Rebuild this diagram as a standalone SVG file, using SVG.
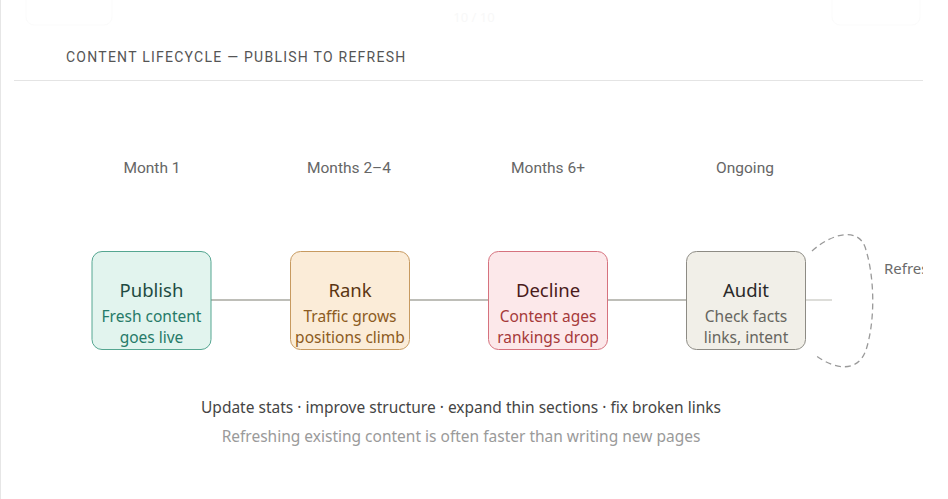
<svg xmlns="http://www.w3.org/2000/svg" width="948" height="499" viewBox="0 0 948 499">
<style>
.t{font-family:"Noto Sans","DejaVu Sans",sans-serif}
.title{font-family:Roboto,"Liberation Sans",sans-serif;font-size:14px;fill:#555;letter-spacing:1.25px}
.month{font-family:Roboto,"Liberation Sans",sans-serif;font-size:15.5px;fill:#666;text-anchor:middle}
.nt{font-size:18.5px;text-anchor:middle}
.ns{font-size:15.5px;text-anchor:middle}
.conn{stroke:#a9a8a0;stroke-width:1.5;fill:none}
.foot{font-size:15.5px;text-anchor:middle}
</style>
<defs>
<clipPath id="clipR"><rect x="0" y="0" width="923" height="499"/></clipPath>
</defs>
<rect width="948" height="499" fill="#fff"/>
<line x1="0.5" y1="0" x2="0.5" y2="499" stroke="#e6e6e6" stroke-width="1"/>
<rect x="26" y="-10" width="86" height="35" rx="8" fill="none" stroke="#fbfbfb"/>
<rect x="832" y="-10" width="88" height="35" rx="8" fill="none" stroke="#fbfbfb"/>
<text x="474" y="22" class="t" font-size="13" fill="#f8f8f8" text-anchor="middle">10 / 10</text>
<text x="66" y="62" class="title">CONTENT LIFECYCLE — PUBLISH TO REFRESH</text>
<line x1="14" y1="80.5" x2="923" y2="80.5" stroke="#e4e4e4" stroke-width="1"/>
<g id="months">
<text x="152" y="173" class="month">Month 1</text>
<text x="349" y="173" class="month">Months 2–4</text>
<text x="548" y="173" class="month">Months 6+</text>
<text x="745" y="173" class="month">Ongoing</text>
</g>
<g id="connectors">
<line x1="211" y1="300" x2="290" y2="300" class="conn"/>
<line x1="410" y1="300" x2="488" y2="300" class="conn"/>
<line x1="608" y1="300" x2="686" y2="300" class="conn"/>
<line x1="805" y1="300" x2="832" y2="300" stroke="#d2d2cc" stroke-width="1.5"/>
<path d="M812,251 C832,233 860,226 866,250 C875,280 875,322 866,350 C858,373 835,370 815,355" fill="none" stroke="#9a9a9a" stroke-width="1.3" stroke-dasharray="6 4"/>
</g>
<g id="publish">
<rect x="92" y="251.5" width="119" height="98" rx="10" fill="#e2f4ee" stroke="#55a691" stroke-width="1"/>
<text x="151.5" y="297" class="t nt" fill="#1e4b42">Publish</text>
<text x="151.5" y="322" class="t ns" fill="#267a68">Fresh content</text>
<text x="151.5" y="343" class="t ns" fill="#267a68">goes live</text>
</g>
<g id="rank">
<rect x="290.5" y="251.5" width="119" height="98" rx="10" fill="#fbecd8" stroke="#c79a60" stroke-width="1"/>
<text x="350" y="297" class="t nt" fill="#5a3512">Rank</text>
<text x="350" y="322" class="t ns" fill="#8c5b22">Traffic grows</text>
<text x="350" y="343" class="t ns" fill="#8c5b22">positions climb</text>
</g>
<g id="decline">
<rect x="488.5" y="251.5" width="119" height="98" rx="10" fill="#fce8ea" stroke="#d6727e" stroke-width="1"/>
<text x="548" y="297" class="t nt" fill="#4a1b1b">Decline</text>
<text x="548" y="322" class="t ns" fill="#a63a3a">Content ages</text>
<text x="548" y="343" class="t ns" fill="#a63a3a">rankings drop</text>
</g>
<g id="audit">
<rect x="686.5" y="251.5" width="119" height="98" rx="10" fill="#f1efe8" stroke="#8d8b84" stroke-width="1"/>
<text x="746" y="297" class="t nt" fill="#2a2a2a">Audit</text>
<text x="746" y="322" class="t ns" fill="#676660">Check facts</text>
<text x="746" y="343" class="t ns" fill="#676660">links, intent</text>
</g>
<g id="refresh" clip-path="url(#clipR)">
<text x="884" y="274" class="t" font-size="15" fill="#6b6b6b">Refresh</text>
</g>
<text x="461" y="413" class="t foot" fill="#454545">Update stats · improve structure · expand thin sections · fix broken links</text>
<text x="461" y="442" class="t foot" fill="#9a9a9a">Refreshing existing content is often faster than writing new pages</text>
</svg>
